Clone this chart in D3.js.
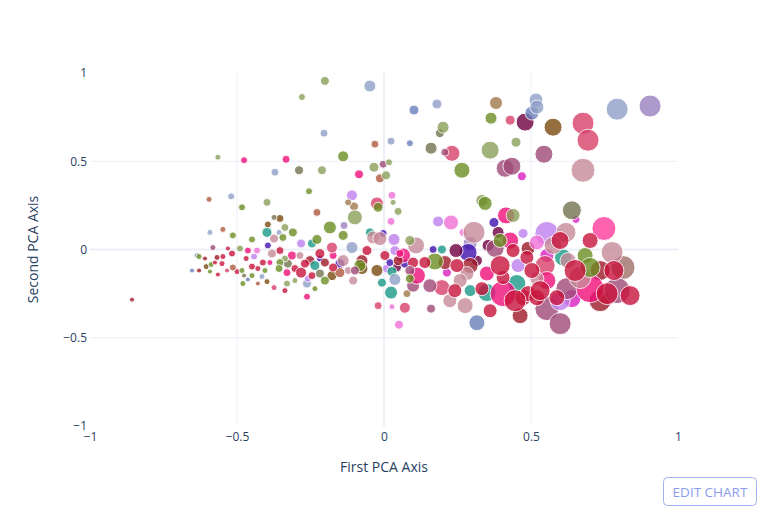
<!DOCTYPE html>
<html>
<head>
<meta charset="utf-8">
<script src="https://cdn.jsdelivr.net/npm/d3@7"></script>
<style>
  body { margin: 0; background: #fff; }
  svg { display: block; font-family: "Open Sans", verdana, arial, sans-serif; }
</style>
</head>
<body>
<svg id="chart" width="771" height="517"></svg>
<script>
// ---- tick labels / axis titles ----
const xTicks = [-1, -0.5, 0, 0.5, 1];
const yTicks = [-1, -0.5, 0, 0.5, 1];
const xTitle = "First PCA Axis";
const yTitle = "Second PCA Axis";

// ---- palette ----
const palette = {
  olive: "#6b8e23", sage: "#8a9f5a", dkolive: "#737350", pink: "#f0107a",
  rose: "#d8406a", crimson: "#c8143c", darkred: "#a01a2a", maroon: "#700040",
  mauve: "#a04a78", slate: "#8fa0c8", slateblue: "#6a80b8", teal: "#1a9a88",
  brown: "#7a4a10", sienna: "#b05a40", tan: "#a07a4a", violet: "#c080f0",
  orchid: "#f070d8", magenta: "#d820c0", bviolet: "#4010b0", rosy: "#c88a9a",
  rosybrown: "#a0706a", purple: "#9b80c0", hotpink: "#ff3c9c"
};

// ---- series: [first PCA, second PCA, marker size] ----
const olive = [[-0.483,0.239,7],[-0.514,0.080,7],[-0.449,0.057,7],[-0.139,0.528,11],[-0.255,0.330,7],
  [-0.020,0.239,10],[0.265,0.449,16],[0.364,0.744,12],[-0.310,0.097,9],[-0.344,0.068,8],[-0.228,0.057,10],
  [-0.184,0.125,13],[-0.139,0.080,10],[-0.082,-0.091,12],[-0.592,-0.125,5],[-0.588,-0.085,6],[-0.629,-0.040,6],
  [-0.483,-0.119,6],[-0.480,-0.193,6],[-0.449,-0.148,6],[-0.354,-0.074,8],[-0.357,-0.108,8],[-0.235,-0.222,6],
  [0.344,0.261,14],[0.395,0.051,14],[0.173,-0.068,17],[0.088,-0.165,9],[0.684,-0.034,16],[0.701,-0.102,20],
  [-0.405,-0.119,6],[-0.201,-0.176,9]];
const sage = [[-0.201,0.955,9],[-0.279,0.864,7],[0.201,0.693,12],[0.017,0.494,7],[-0.034,0.466,10],
  [0.007,0.420,9],[-0.211,0.449,9],[0.031,0.267,6],[0.048,0.216,8],[-0.099,0.182,15],[-0.565,0.523,6],
  [-0.398,0.267,8],[-0.337,0.125,8],[-0.490,0.006,7],[-0.337,-0.051,7],[-0.330,-0.193,7],[0.333,0.278,12],
  [0.449,0.608,10],[0.361,0.563,18],[0.439,0.193,14],[0.088,0.051,10],[-0.303,-0.176,6]];
const dkolive = [[0.190,0.659,9],[0.160,0.574,12],[-0.289,0.449,9],[-0.374,0.182,6],[-0.327,-0.080,9],
  [-0.218,-0.136,9],[0.639,0.222,19],[-0.476,-0.148,5]];
const pink = [[-0.476,0.506,7],[-0.333,0.511,8],[-0.085,0.426,9],[-0.463,-0.006,7],[-0.173,-0.034,8],
  [-0.313,-0.034,9],[-0.330,-0.131,8],[-0.262,-0.267,7],[0.415,0.193,17],[0.429,0.051,17],[0.065,-0.034,15],
  [0.112,-0.148,17],[0.350,-0.136,15],[0.405,-0.250,26],[0.554,-0.176,18],[0.701,-0.222,28],
  [0.054,-0.023,8],[-0.388,-0.074,6]];
const rose = [[0.231,0.545,16],[0.429,0.733,10],[0.677,0.716,22],[0.694,0.619,22],[-0.024,0.261,13],
  [-0.374,-0.216,6],[-0.177,0.011,11],[-0.020,-0.318,8],[0.071,-0.330,11],[0.197,-0.216,16],
  [0.548,-0.091,20],[-0.534,-0.119,5]];
const crimson = [[-0.565,-0.142,5],[-0.548,-0.040,6],[-0.551,-0.080,6],[-0.517,-0.023,7],[-0.500,-0.125,6],
  [-0.469,-0.051,6],[-0.449,-0.097,7],[-0.412,-0.074,7],[-0.354,-0.006,8],[-0.303,-0.108,8],[-0.282,-0.131,11],
  [-0.269,-0.080,9],[-0.218,-0.023,10],[-0.173,-0.102,9],[0.099,-0.074,11],[0.333,-0.222,14],[0.405,-0.159,14],
  [0.473,-0.273,16],[0.439,-0.006,14],[0.486,-0.045,14],[0.503,-0.119,16],[0.490,-0.250,16],[0.520,-0.273,16],
  [0.588,-0.273,16],[0.759,-0.250,22],[0.446,-0.290,22],[0.531,-0.233,20],[0.837,-0.261,20],[0.395,-0.091,20],
  [0.650,-0.119,22],[0.361,-0.347,14],[0.248,-0.091,14],[0.139,-0.074,12],[0.241,-0.233,14],[0.599,0.051,18],
  [0.701,0.051,16],[0.782,-0.119,20],[-0.058,-0.006,10],[0.003,-0.034,10],[-0.575,-0.074,5],[-0.429,-0.108,6],
  [-0.531,0.006,5],[-0.337,-0.233,6],[-0.245,-0.148,8]];
const darkred = [[-0.857,-0.284,5],[-0.629,-0.119,5],[-0.568,-0.045,6],[-0.252,-0.063,10],[-0.075,-0.063,12],
  [0.490,0.006,14],[0.735,-0.119,20],[0.735,-0.290,22],[0.463,-0.375,16],[0.207,-0.074,14],[0.293,-0.091,16],
  [0.048,-0.063,10],[-0.609,-0.051,5],[-0.201,-0.074,9]];
const maroon = [[0.480,0.722,18],[0.388,0.097,12],[0.354,0.023,12],[0.316,-0.063,11],[0.044,-0.102,9],
  [0.245,-0.006,14]];
const mauve = [[-0.003,0.483,8],[0.207,0.551,8],[0.544,0.540,18],[0.412,0.460,18],[0.435,0.472,18],
  [-0.582,0.011,6],[0.378,0.006,18],[0.099,-0.205,13],[0.160,-0.335,9],[0.554,-0.335,24],[0.599,-0.420,22],
  [0.622,-0.222,22],[0.793,-0.233,26],[-0.099,-0.119,9],[0.156,-0.205,14],[0.088,-0.119,10]];
const slate = [[-0.048,0.926,12],[0.180,0.824,10],[-0.204,0.659,8],[0.024,0.614,8],[-0.371,0.438,8],
  [-0.520,0.301,7],[-0.592,0.097,6],[-0.357,0.097,6],[-0.415,-0.153,6],[-0.262,-0.193,9],[-0.109,0.011,12],
  [0.037,-0.170,12],[0.793,0.795,22],[0.517,0.847,14],[0.520,0.807,14],[-0.636,-0.034,6]];
const slateblue = [[0.102,0.790,10],[0.088,0.602,7],[-0.653,-0.119,5],[-0.463,-0.170,5],[0.316,-0.415,16],
  [0.503,0.773,14]];
const teal = [[-0.398,0.097,10],[-0.245,0.034,9],[-0.048,0.097,9],[-0.235,-0.091,10],[0.197,0.000,9],
  [0.027,-0.125,10],[-0.007,-0.188,9],[0.024,-0.244,13],[0.293,-0.233,12],[0.350,-0.244,18],[0.452,-0.193,18],
  [0.609,-0.045,17]];
const brown = [[0.575,0.693,18],[-0.395,0.142,7],[-0.354,0.176,8],[-0.605,-0.097,6],[-0.398,-0.182,6],
  [-0.177,-0.148,10],[-0.024,-0.119,12],[-0.075,-0.108,12]];
const sienna = [[-0.031,0.597,8],[-0.014,0.403,9],[-0.595,0.284,6],[-0.548,0.114,6],[-0.228,0.210,8],
  [-0.514,-0.102,7],[-0.150,-0.131,10],[-0.429,-0.193,5]];
const tan = [[0.381,0.830,13],[-0.102,0.244,9],[-0.122,0.267,7],[0.078,-0.250,8]];
const violet = [[-0.109,0.307,11],[0.184,0.159,11],[-0.282,0.034,9],[-0.442,-0.040,7],[0.034,0.057,12],
  [0.010,-0.108,9],[0.473,0.091,10],[0.554,0.091,24],[0.456,-0.091,14],[-0.259,-0.165,7],[0.599,-0.290,20],
  [0.037,-0.006,10]];
const orchid = [[0.027,0.307,8],[0.024,0.159,8],[0.228,0.153,15],[-0.432,-0.006,7],[0.027,-0.324,6],
  [0.051,-0.426,9],[0.269,0.097,8],[0.520,0.040,15]];
const magenta = [[0.469,0.415,9],[0.214,-0.131,9],[0.554,-0.034,14],[0.653,0.170,8],[0.639,-0.278,18]];
const bviolet = [[-0.395,0.023,7],[-0.218,-0.051,7],[-0.150,-0.080,10],[0.374,0.153,10],[0.286,-0.017,18],
  [0.167,0.000,8],[0.071,-0.080,9],[-0.003,0.091,8],[0.020,-0.074,8]];
const rosy = [[0.677,0.449,24],[-0.374,0.062,9],[-0.381,-0.023,9],[-0.139,-0.063,12],[-0.122,-0.119,8],
  [-0.105,-0.176,9],[-0.037,0.068,13],[0.306,0.097,22],[0.109,0.023,17],[-0.014,0.062,14],[0.282,-0.136,14],
  [0.259,-0.176,14],[0.276,-0.318,16],[0.619,0.097,20],[0.575,0.023,18],[0.776,-0.017,22],[0.667,-0.159,22],
  [0.520,-0.165,14],[0.626,-0.063,16],[0.224,-0.290,14],[-0.286,-0.034,8]];
const rosybrown = [[0.813,-0.102,24]];
const purple = [[0.905,0.813,22],[0.293,0.034,14],[-0.136,0.136,8]];
const hotpink = [[0.748,0.119,24]];

const seriesList = [
  ["olive", olive], ["sage", sage], ["dkolive", dkolive], ["slate", slate], ["slateblue", slateblue],
  ["brown", brown], ["sienna", sienna], ["tan", tan], ["darkred", darkred], ["crimson", crimson],
  ["mauve", mauve], ["rosy", rosy], ["maroon", maroon], ["bviolet", bviolet], ["violet", violet],
  ["rose", rose], ["teal", teal], ["orchid", orchid], ["magenta", magenta], ["pink", pink],
  ["rosybrown", rosybrown], ["purple", purple], ["hotpink", hotpink]
];

// interleave the series so overlaps look mixed, as in the original
const points = [];
const maxLen = d3.max(seriesList, s => s[1].length);
for (let i = 0; i < maxLen; i++) {
  seriesList.forEach(([name, arr]) => {
    if (i < arr.length) points.push({x: arr[i][0], y: arr[i][1], s: arr[i][2], c: palette[name]});
  });
}

// ---- layout ----
const margin = {left: 90, right: 93, top: 73, bottom: 91};
const W = 771, H = 517;
const svg = d3.select("#chart");
const x = d3.scaleLinear().domain([-1, 1]).range([margin.left, W - margin.right]);
const y = d3.scaleLinear().domain([-1, 1]).range([H - margin.bottom, margin.top]);
const fmt = v => (v < 0 ? "\u2212" : "") + Math.abs(v);
const textColor = "#2a3f5f";
const gridColor = "#ebf0f8";

// grid lines
const gx = svg.append("g");
gx.selectAll("line").data(xTicks.filter(t => t !== 0 && Math.abs(t) !== 1)).join("line")
  .attr("x1", d => x(d)).attr("x2", d => x(d))
  .attr("y1", y(1)).attr("y2", y(-1))
  .attr("stroke", gridColor).attr("stroke-width", 1);
const gy = svg.append("g");
gy.selectAll("line").data(yTicks.filter(t => t !== 0 && Math.abs(t) !== 1)).join("line")
  .attr("y1", d => y(d)).attr("y2", d => y(d))
  .attr("x1", x(-1)).attr("x2", x(1))
  .attr("stroke", gridColor).attr("stroke-width", 1);
// zero lines
svg.append("line").attr("x1", x(0)).attr("x2", x(0)).attr("y1", y(1)).attr("y2", y(-1))
  .attr("stroke", gridColor).attr("stroke-width", 2);
svg.append("line").attr("y1", y(0)).attr("y2", y(0)).attr("x1", x(-1)).attr("x2", x(1))
  .attr("stroke", gridColor).attr("stroke-width", 2);

// axes (labels only, using d3 axis generators)
const xAxis = d3.axisBottom(x).tickValues(xTicks).tickFormat(fmt).tickSize(0).tickPadding(6);
const xg = svg.append("g").attr("transform", `translate(0,${y(-1)})`).call(xAxis);
const yAxis = d3.axisLeft(y).tickValues(yTicks).tickFormat(fmt).tickSize(0).tickPadding(3);
const yg = svg.append("g").attr("transform", `translate(${x(-1)},0)`).call(yAxis);
[xg, yg].forEach(g => {
  g.select(".domain").remove();
  g.selectAll("text").attr("fill", textColor).style("font-size", "12px")
    .style("font-family", '"Open Sans", verdana, arial, sans-serif');
});

// markers
svg.append("g").selectAll("circle").data(points).join("circle")
  .attr("cx", d => x(d.x)).attr("cy", d => y(d.y)).attr("r", d => d.s / 2)
  .attr("fill", d => d.c).attr("opacity", 0.8)
  .attr("stroke", "#ffffff").attr("stroke-width", 1);

// titles
svg.append("text").attr("x", x(0)).attr("y", 472).attr("text-anchor", "middle")
  .attr("fill", textColor).style("font-size", "14px").text(xTitle);
svg.append("text").attr("transform", `translate(38,${y(0)}) rotate(-90)`).attr("text-anchor", "middle")
  .attr("fill", textColor).style("font-size", "14px").text(yTitle);

// edit chart button
svg.append("rect").attr("x", 663.5).attr("y", 477.5).attr("width", 93).attr("height", 28).attr("rx", 4)
  .attr("fill", "#fff").attr("stroke", "#a3b0f2").attr("stroke-width", 1);
svg.append("text").attr("x", 710).attr("y", 496.5).attr("text-anchor", "middle")
  .attr("fill", "#8c9df0").style("font-size", "13.5px").text("EDIT CHART");
</script>
</body>
</html>
